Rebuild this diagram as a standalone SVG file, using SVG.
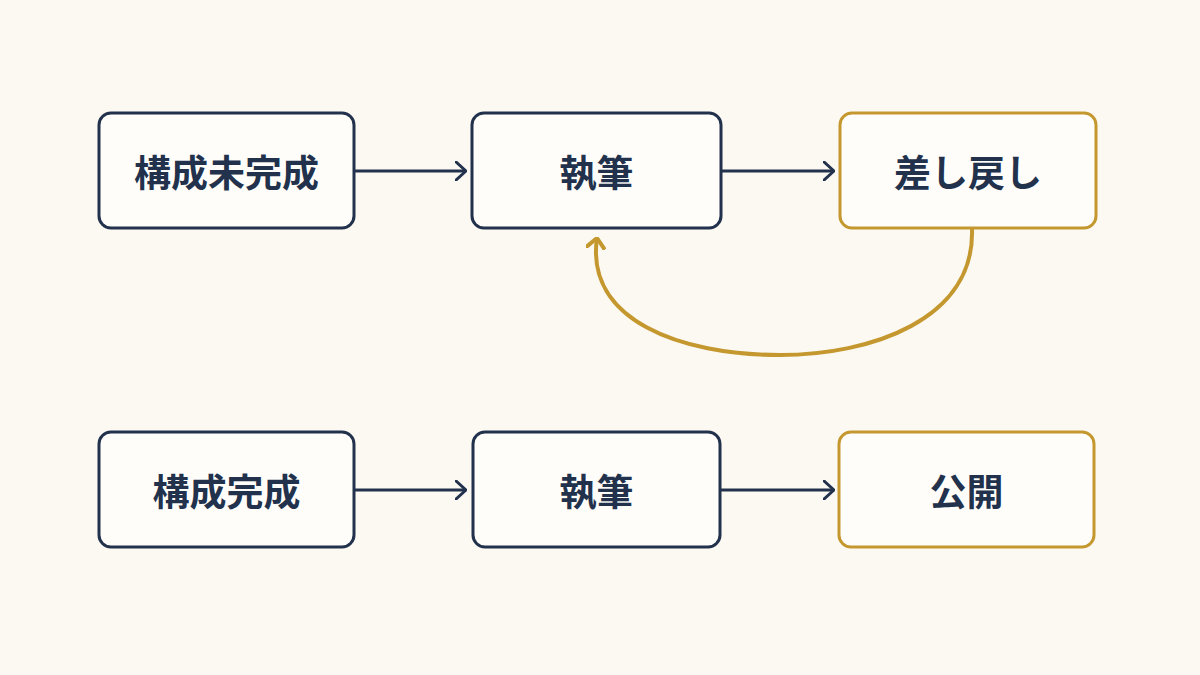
<svg xmlns="http://www.w3.org/2000/svg" width="1200" height="675" viewBox="0 0 1200 675">
<style>
.n{fill:#fffdf9;stroke:#22324d;stroke-width:3}
.g{fill:#fffdf9;stroke:#c4982f;stroke-width:3}
.t{font-family:"Noto Sans CJK JP",sans-serif;font-weight:700;font-size:37px;fill:#22324d;text-anchor:middle;dominant-baseline:central}
.c{fill:none;stroke:#22324d;stroke-width:3}
</style>
<defs>
<marker id="a" viewBox="0 0 12 20" refX="11" refY="10" markerWidth="12" markerHeight="20" markerUnits="userSpaceOnUse" orient="auto"><path d="M1 1L11 10L1 19" fill="none" stroke="#22324d" stroke-width="3" stroke-linecap="round" stroke-linejoin="round"/></marker>
<marker id="b" viewBox="0 0 12 20" refX="11" refY="10" markerWidth="12" markerHeight="20" markerUnits="userSpaceOnUse" orient="auto"><path d="M1 1L11 10L1 19" fill="none" stroke="#c4982f" stroke-width="4" stroke-linecap="round" stroke-linejoin="round"/></marker>
</defs>
<rect width="1200" height="675" fill="#fcf9f2"/>
<g id="connectors">
<path class="c" d="M355 171H466" marker-end="url(#a)"/>
<path class="c" d="M722 171H834" marker-end="url(#a)"/>
<path class="c" d="M355 490H466" marker-end="url(#a)"/>
<path class="c" d="M721 490H834" marker-end="url(#a)"/>
<path d="M972 229C975 320 870 355 780 355C680 355 585 320 597 238" fill="none" stroke="#c4982f" stroke-width="4" marker-end="url(#b)"/>
</g>
<g id="n1"><rect class="n" x="99" y="113" width="255" height="115" rx="12"/><text class="t" x="226.5" y="171">構成未完成</text></g>
<g id="n2"><rect class="n" x="472" y="113" width="249" height="115" rx="12"/><text class="t" x="596.5" y="171">執筆</text></g>
<g id="n3"><rect class="g" x="840" y="113" width="256" height="115" rx="12"/><text class="t" x="968" y="171">差し戻し</text></g>
<g id="n4"><rect class="n" x="99" y="432" width="255" height="115" rx="12"/><text class="t" x="226.5" y="490">構成完成</text></g>
<g id="n5"><rect class="n" x="473" y="432" width="247" height="115" rx="12"/><text class="t" x="596.5" y="490">執筆</text></g>
<g id="n6"><rect class="g" x="839" y="432" width="255" height="115" rx="12"/><text class="t" x="966.5" y="490">公開</text></g>
</svg>
